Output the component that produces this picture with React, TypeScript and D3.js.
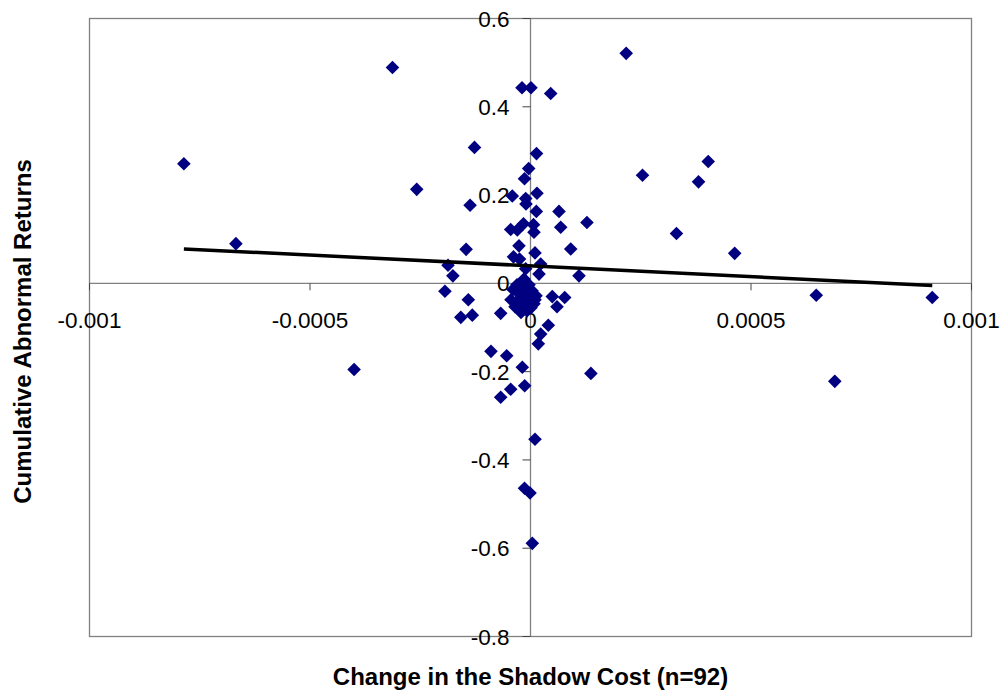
import React from 'react';
import { scaleLinear, line, extent } from 'd3';

// x: change in shadow cost, y: cumulative abnormal return
const shadowCost = [
  -0.000786, -0.000668, -0.000313, -0.000258, -0.000127, -0.000137, -0.000146, -0.000187, -0.000176, -0.0000193,
  0.0000011, 0.0000458, 0.000217, 0.000254, 0.000381, 0.000403, 0.000331, 0.000463, 0.0000136, -0.0000041,
  -0.0000136, -0.0000413, -0.0000109, 0.0000147, -0.0000102, 0.0000132, 0.0000646, 0.0000685, 0.000128, -0.0000449,
  -0.0000299, -0.0000159, 0.0000068, 0.0000079, -0.0000261, 0.0000912, 0.0000102, -0.0000385, -0.0000249, 0.0000231,
  -0.0000109, -0.0000147, 0.0000193, 0.00011, -0.000194, -0.000141, -0.000158, -0.000132, -0.0000676, -0.0000896,
  -0.000054, -0.0000186, -0.0000449, -0.0000676, -0.0000132, 0.0000404, 0.0000231, 0.0000177, 0.0000494, 0.0000776,
  0.0000601, 0.000137, 0.000648, 0.000911, 0.00069, -0.0004, 0.0000102, -0.0000136, -0.0000011, 0.0000041,
  -0.0000397, -0.0000261, -0.0000102, 0.0000034, -0.0000442, -0.0000283, -0.0000147, -0.0000011, 0.0000125, -0.0000351,
  -0.0000193, -0.0000057, 0.0000079, -0.0000215, -0.0000079, 0.0000011, -0.0000306, -0.0000034, -0.000017, 0.0000102,
  -0.0000125, -0.0000034,
];
const abnormalReturn = [
  0.271, 0.09, 0.489, 0.213, 0.308, 0.177, 0.077, 0.041, 0.017, 0.443,
  0.443, 0.43, 0.521, 0.245, 0.23, 0.276, 0.113, 0.068, 0.294, 0.26,
  0.237, 0.198, 0.192, 0.204, 0.18, 0.163, 0.163, 0.127, 0.138, 0.122,
  0.121, 0.135, 0.133, 0.116, 0.085, 0.078, 0.069, 0.06, 0.055, 0.044,
  0.033, 0.01, 0.021, 0.017, -0.018, -0.037, -0.077, -0.072, -0.068, -0.154,
  -0.164, -0.19, -0.24, -0.258, -0.232, -0.095, -0.115, -0.137, -0.03, -0.032,
  -0.053, -0.204, -0.027, -0.032, -0.222, -0.195, -0.353, -0.464, -0.475, -0.589,
  -0.014, -0.023, -0.01, -0.017, -0.037, -0.039, -0.03, -0.035, -0.028, -0.053,
  -0.051, -0.048, -0.046, -0.066, -0.062, -0.055, -0.003, -0.003, -0.019, -0.037,
  -0.039, -0.023,
];

// linear trendline as shown in the chart (intercept, slope)
const trendIntercept = 0.0396;
const trendSlope = -48.9;

const xTicks = [-0.001, -0.0005, 0, 0.0005, 0.001];
const xTickLabels = ['-0.001', '-0.0005', '0', '0.0005', '0.001'];
const yTicks = [-0.8, -0.6, -0.4, -0.2, 0, 0.2, 0.4, 0.6];
const yTickLabels = ['-0.8', '-0.6', '-0.4', '-0.2', '0', '0.2', '0.4', '0.6'];

const W = 1002;
const H = 694;
const FONT = '"Liberation Sans", Arial, sans-serif';
const MARKER = '#000080';
const AXIS = '#808080';

export default function App() {
  const x = scaleLinear().domain([-0.001, 0.001]).range([89.5, 971.5]);
  const y = scaleLinear().domain([-0.8, 0.6]).range([636.5, 18.5]);

  const [x0, x1] = extent(shadowCost) as [number, number];
  const trend = line<number>()
    .x((d) => x(d))
    .y((d) => y(trendIntercept + trendSlope * d))([x0, x1]);

  const r = 6.8;
  const diamond = `M0,${-r}L${r},0L0,${r}L${-r},0Z`;
  const midX = (x.range()[0] + x.range()[1]) / 2;
  const midY = (y.range()[0] + y.range()[1]) / 2;

  return (
    <div style={{ position: 'fixed', left: 0, top: 0, background: '#fff' }}>
      <svg width={W} height={H} style={{ display: 'block' }} fontFamily={FONT}>
        <rect x={0} y={0} width={W} height={H} fill="#fff" />
        <rect
          x={x.range()[0]}
          y={y.range()[1]}
          width={x.range()[1] - x.range()[0]}
          height={y.range()[0] - y.range()[1]}
          fill="none"
          stroke={AXIS}
          strokeWidth={1.3}
        />
        {/* axes through the origin */}
        <line x1={x.range()[0]} x2={x.range()[1]} y1={y(0)} y2={y(0)} stroke={AXIS} strokeWidth={1.3} />
        <line x1={x(0)} x2={x(0)} y1={y.range()[1]} y2={y.range()[0]} stroke={AXIS} strokeWidth={1.3} />

        {xTicks.map((t, i) => (
          <g key={`xt${i}`}>
            <line x1={x(t)} x2={x(t)} y1={y(0)} y2={y(0) + 7} stroke="#444" strokeWidth={1} />
            <text x={x(t)} y={y(0) + 45} textAnchor="middle" fontSize={22.5} fill="#000">
              {xTickLabels[i]}
            </text>
          </g>
        ))}
        {yTicks.map((t, i) => (
          <g key={`yt${i}`}>
            <line x1={x(0) - 8} x2={x(0)} y1={y(t)} y2={y(t)} stroke="#444" strokeWidth={1} />
            <text x={x(0) - 21} y={y(t) + 8} textAnchor="end" fontSize={22.5} fill="#000">
              {yTickLabels[i]}
            </text>
          </g>
        ))}

        {shadowCost.map((c, i) => (
          <path key={i} d={diamond} transform={`translate(${x(c)},${y(abnormalReturn[i])})`} fill={MARKER} />
        ))}

        <path d={trend ?? ''} fill="none" stroke="#000" strokeWidth={3.5} />

        <text x={midX} y={685} textAnchor="middle" fontSize={24} fontWeight="bold" fill="#000">
          Change in the Shadow Cost (n=92)
        </text>
        <text
          transform={`translate(31,${midY + 4}) rotate(-90)`}
          textAnchor="middle"
          fontSize={24}
          fontWeight="bold"
          fill="#000"
        >
          Cumulative Abnormal Returns
        </text>
      </svg>
    </div>
  );
}
